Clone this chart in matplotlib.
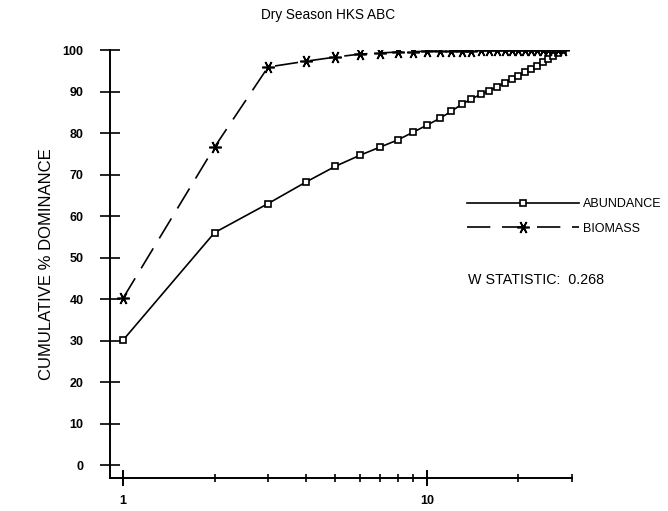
import matplotlib
matplotlib.use('Agg')
import matplotlib.pyplot as plt
import numpy as np
from matplotlib.ticker import FixedLocator, NullFormatter

plt.rcParams['font.family'] = ['Liberation Sans', 'DejaVu Sans']

# cumulative % dominance by species rank
abundance = [30.1, 56.0, 63.0, 68.2, 72.0, 74.6, 76.6, 78.3, 80.2, 81.9,
             83.5, 85.2, 86.9, 88.2, 89.3, 90.2, 91.1, 92.1, 93.0, 93.8,
             94.6, 95.4, 96.2, 97.0, 97.8, 98.6, 99.3, 100.0]
biomass = [40.2, 76.6, 95.9, 97.3, 98.3, 99.0, 99.3, 99.5, 99.6, 99.7,
           99.75, 99.8, 99.83, 99.86, 99.88, 99.9, 99.92, 99.93, 99.94, 99.95,
           99.96, 99.97, 99.98, 99.98, 99.99, 99.99, 100.0, 100.0]
rank = np.arange(1, len(abundance) + 1)
w_stat = 0.268

fig = plt.figure(figsize=(6.68, 5.11), dpi=100)
ax = fig.add_axes([110 / 668, 33 / 511, 462 / 668, 428 / 511])

ax.plot(rank, abundance, color='black', lw=1.2, marker='s', ms=5,
        mfc='white', mec='black', mew=1.2, label='ABUNDANCE')
ax.plot(rank, biomass, color='black', lw=1.2, ls=(0, (14, 7)),
        marker=(6, 2, 90), ms=9, mec='black', mew=1.2, label='BIOMASS')

ax.set_xscale('log')
ax.set_xlim(0.906, 30)
ax.set_ylim(-3.1, 100)

for s in ['top', 'right']:
    ax.spines[s].set_visible(False)
ax.spines['left'].set_linewidth(1.4)
ax.spines['bottom'].set_linewidth(1.4)

ax.set_yticks(np.arange(0, 101, 10))
ax.tick_params(axis='y', direction='inout', length=14, width=1.2, pad=12,
               labelsize=9)
ax.xaxis.set_major_locator(FixedLocator([1, 10]))
ax.xaxis.set_minor_locator(FixedLocator([2, 3, 4, 5, 6, 7, 8, 9, 20, 30]))
ax.xaxis.set_minor_formatter(NullFormatter())
ax.set_xticklabels(['1', '10'])
ax.tick_params(axis='x', which='major', direction='inout', length=12,
               width=1.4, pad=6, labelsize=9)
ax.tick_params(axis='x', which='minor', direction='inout', length=6, width=1.2)
for lab in ax.get_xticklabels() + ax.get_yticklabels():
    lab.set_fontweight('bold')

ax.set_ylabel('CUMULATIVE % DOMINANCE', fontsize=12, labelpad=6)

ax.legend(loc='center left', bbox_to_anchor=(0.772, 0.611), frameon=False,
          borderaxespad=0, borderpad=0, handlelength=9.0, handletextpad=0.3,
          labelspacing=1.0, numpoints=1, fontsize=9)

ax.text(0.775, 0.462, 'W STATISTIC:  %.3f' % w_stat, transform=ax.transAxes,
        fontsize=10.3, va='center', ha='left')

fig.text(328 / 668, 1 - 15 / 511, 'Dry Season HKS ABC', fontsize=9.8,
         ha='center', va='center')

fig.savefig('out.png', dpi=100)
